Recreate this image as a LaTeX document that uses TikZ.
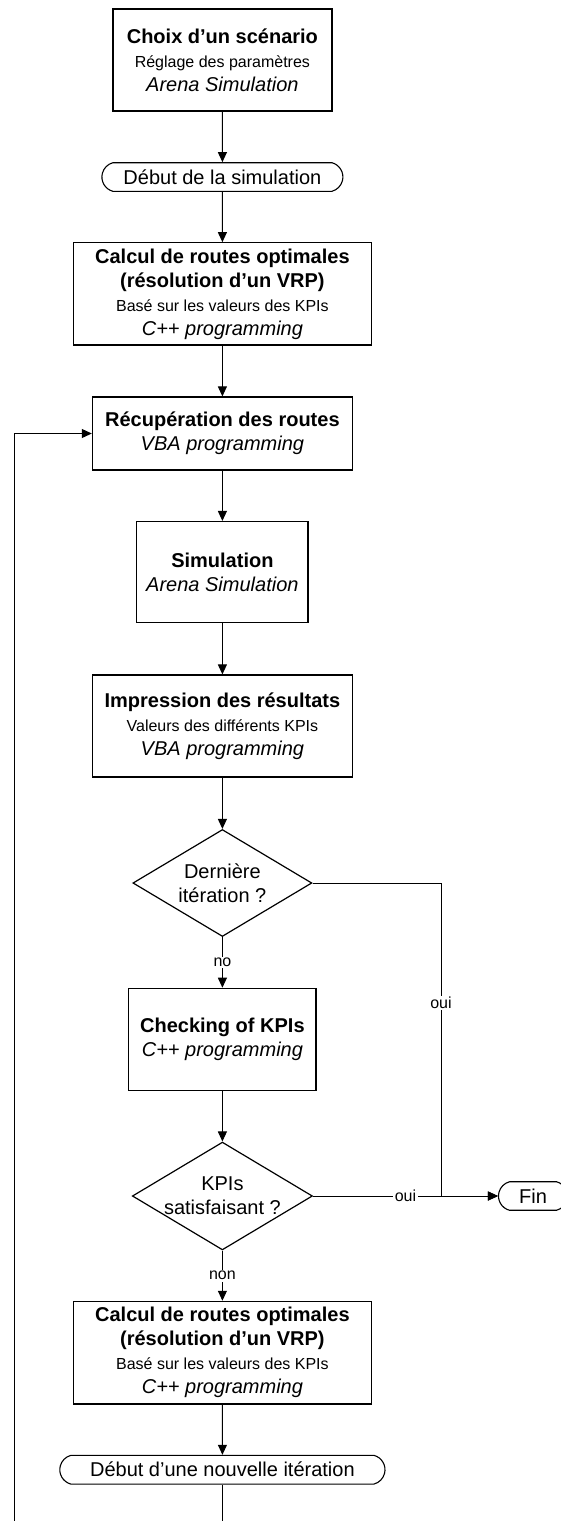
\documentclass[tikz,border=0pt]{standalone}
\usepackage{fontspec}
\setmainfont{Liberation Sans}
\usetikzlibrary{arrows.meta,shapes.geometric,shapes.misc}
\newcommand\smtext[1]{{\fontsize{16}{24}\selectfont #1}}
\begin{document}
\begin{tikzpicture}[x=1pt,y=-1pt,
  stepbox/.style={draw,line width=1.2pt,rectangle,inner sep=0pt,align=center,
    font=\fontsize{20}{24}\selectfont},
  term/.style={draw,line width=1.1pt,rounded rectangle,rounded rectangle arc length=150,
    inner sep=0pt,font=\fontsize{20}{24}\selectfont},
  decision/.style={draw,line width=1.2pt,diamond,aspect=1.67,inner sep=0pt,align=center,
    minimum width=179pt,minimum height=107pt,font=\fontsize{20}{24}\selectfont},
  flow/.style={line width=1pt,-{Triangle[length=10pt,width=9pt]}},
  link/.style={line width=1pt},
  tag/.style={fill=white,inner sep=1.5pt,font=\fontsize{16}{19}\selectfont},
]
\useasboundingbox (0,0) rectangle (561,1521);
\clip (0,0) rectangle (561,1521);

% process steps
\node[stepbox,minimum width=219pt,minimum height=102pt] (choix) at (222.4,60)
  {\textbf{Choix d’un scénario}\\\smtext{Réglage des paramètres}\\\textit{Arena Simulation}};
\node[term,minimum width=241pt,minimum height=28.6pt] (debut) at (222.4,177)
  {Début de la simulation};
\node[stepbox,minimum width=298.4pt,minimum height=102.3pt] (calcA) at (222.4,293.9)
  {\textbf{Calcul de routes optimales}\\\textbf{(résolution d’un VRP)}\\\smtext{Basé sur les valeurs des KPIs}\\\textit{C++ programming}};
\node[stepbox,minimum width=260pt,minimum height=73pt] (recup) at (222.4,433.5)
  {\textbf{Récupération des routes}\\\textit{VBA programming}};
\node[stepbox,minimum width=171.3pt,minimum height=101.3pt] (simu) at (222.4,572.2)
  {\textbf{Simulation}\\\textit{Arena Simulation}};
\node[stepbox,minimum width=260pt,minimum height=102pt] (impr) at (222.4,726)
  {\textbf{Impression des résultats}\\\smtext{Valeurs des différents KPIs}\\\textit{VBA programming}};
\node[decision] (last) at (222.4,883) {Dernière\\itération ?};
\node[stepbox,minimum width=187.2pt,minimum height=102pt] (check) at (222.4,1039.3)
  {\textbf{Checking of KPIs}\\\textit{C++ programming}};
\node[decision] (kpi) at (222.4,1196) {KPIs\\satisfaisant ?};
\node[stepbox,minimum width=298.4pt,minimum height=102.7pt] (calcB) at (222.4,1352.7)
  {\textbf{Calcul de routes optimales}\\\textbf{(résolution d’un VRP)}\\\smtext{Basé sur les valeurs des KPIs}\\\textit{C++ programming}};
\node[term,minimum width=325.2pt,minimum height=28.7pt] (nouv) at (222.4,1469.7)
  {Début d’une nouvelle itération};
\node[term,minimum width=69pt,minimum height=28.5pt] (fin) at (533,1196) {Fin};

% helper points for the routed connectors
\coordinate (merge) at (441,1196);
\coordinate (loopbot) at (14,1545);

% main flow
\draw[flow] (choix) -- (debut);
\draw[flow] (debut) -- (calcA);
\draw[flow] (calcA) -- (recup);
\draw[flow] (recup) -- (simu);
\draw[flow] (simu) -- (impr);
\draw[flow] (impr) -- (last);
\draw[flow] (last.south) -- node[tag] (tagno) {no} (check.north);
\draw[flow] (check) -- (kpi);
\draw[flow] (kpi.south) -- node[tag] (tagnon) {non} (calcB.north);
\draw[flow] (calcB) -- (nouv);

% exits towards the end
\draw[flow] (last.east) -| (merge) -- (fin.west);
\node[tag] (tagoui1) at (441,1003) {oui};
\draw[flow] (kpi.east) -- node[tag] (tagoui2) {oui} (fin.west);

% loop back to the route retrieval
\draw[flow] (nouv.south) |- (loopbot) |- (recup.west);
\end{tikzpicture}
\end{document}
